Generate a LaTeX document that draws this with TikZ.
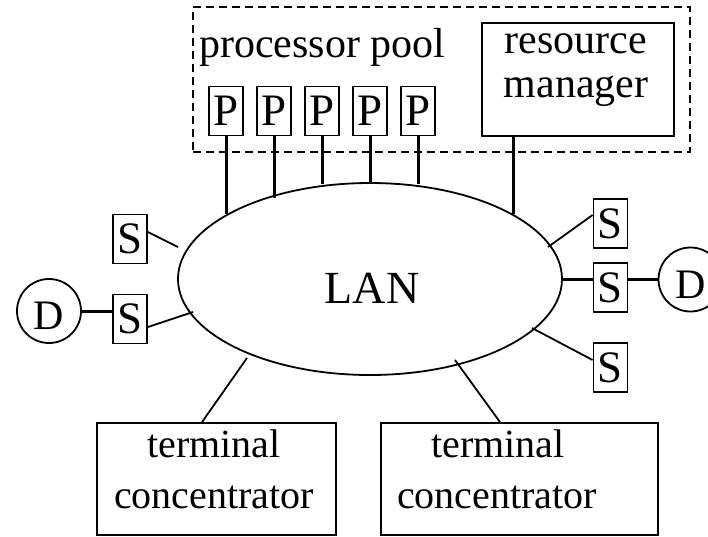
\documentclass[tikz,border=0pt]{standalone}
\usepackage{fontspec}
\setmainfont{Liberation Serif}
\usetikzlibrary{shapes.geometric,calc}
\begin{document}
\begin{tikzpicture}[x=1pt,y=-1pt,
  box/.style={draw, line width=1.8pt, inner sep=0pt},
  letterbox/.style={box, minimum width=34pt, minimum height=49pt, font=\fontsize{45}{45}\selectfont},
  dev/.style={draw, circle, line width=1.8pt, minimum size=64pt, inner sep=0pt, text height=38pt, font=\fontsize{42}{42}\selectfont},
  lbl/.style={inner sep=0pt, anchor=base, font=\fontsize{42}{42}\selectfont},
  link/.style={line width=1.8pt},
  tlink/.style={line width=3pt}]
\useasboundingbox (0,0) rectangle (708,536);
\clip (0,0) rectangle (708,536);

% processor pool
\node[draw, line width=1.8pt, dash pattern=on 8pt off 5pt, inner sep=0pt,
      minimum width=497pt, minimum height=145pt] (pool) at (441.5,79.5) {};
\node[inner sep=0pt, anchor=base west, font=\fontsize{42}{42}\selectfont] (pooltxt) at (199,57) {processor pool};
\foreach \i/\x in {1/226,2/274,3/322,4/370,5/418}
  \node[letterbox] (p\i) at (\x,111) {P};

% resource manager
\node[box, minimum width=192pt, minimum height=113pt] (rm) at (578,79.5) {};
\node[lbl] (rm1) at (576,53) {resource};
\node[lbl] (rm2) at (576,97) {manager};

% LAN
\node[draw, ellipse, line width=1.8pt, inner sep=0pt, minimum width=384pt, minimum height=192pt] (lan) at (370,279) {};
\node[lbl, font=\fontsize{46}{46}\selectfont] (lantxt) at (372,303) {LAN};

% vertical links to LAN
\foreach \i/\y in {1/214,2/198,3/184,4/183,5/184} {
  \coordinate (e\i) at (p\i.south |- 0,\y);
  \draw[tlink] (p\i.south) -- (e\i);
}
\coordinate (rmfoot) at ([xshift=-65pt]rm.south);
\coordinate (er) at (rmfoot |- 0,214);
\draw[tlink] (rmfoot) -- (er);

% left side
\node[letterbox] (s1) at (130,239) {S};
\node[letterbox] (s2) at (130,319) {S};
\node[dev] (d1) at (49,311) {D};
\coordinate (c1) at (178,247);
\coordinate (c2) at (193,312);
\draw[link] ([yshift=7pt]s1.east) -- (c1);
\draw[link] ([yshift=-8pt]s2.east) -- (c2);
\draw[tlink] (d1.east) -- (d1.east -| s2.west);

% right side
\node[letterbox] (s3) at (610.5,223.5) {S};
\node[letterbox] (s4) at (610.5,287.5) {S};
\node[letterbox] (s5) at (610.5,367.5) {S};
\node[dev] (d2) at (690.5,279.5) {D};
\coordinate (c3) at (548,247);
\coordinate (c5) at (532,328);
\draw[link] ([yshift=8.5pt]s3.west) -- (c3);
\draw[tlink] (lan.east) -- (lan.east -| s4.west);
\draw[tlink] (d2.west) -- (d2.west -| s4.east);
\draw[link] ([yshift=7.5pt]s5.west) -- (c5);

% terminal concentrators
\node[box, minimum width=239pt, minimum height=112pt] (tc1) at (216.5,479) {};
\node[lbl, font=\fontsize{40}{40}\selectfont] (tc1a) at (214,457) {terminal};
\node[lbl, font=\fontsize{40}{40}\selectfont] (tc1b) at (214,508) {concentrator};
\node[box, minimum width=277pt, minimum height=112pt] (tc2) at (519.5,479) {};
\node[lbl, font=\fontsize{40}{40}\selectfont] (tc2a) at (498,457) {terminal};
\node[lbl, font=\fontsize{40}{40}\selectfont] (tc2b) at (497,508) {concentrator};
\coordinate (c6) at (247,358);
\coordinate (c7) at (455,360);
\draw[link] ([xshift=-14.5pt]tc1.north) -- (c6);
\draw[link] ([xshift=-19.5pt]tc2.north) -- (c7);
\end{tikzpicture}
\end{document}
